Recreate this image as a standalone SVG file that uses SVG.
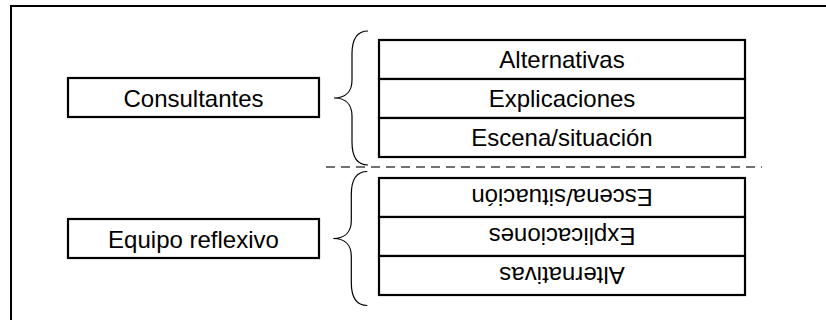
<svg xmlns="http://www.w3.org/2000/svg" width="826" height="320" viewBox="0 0 826 320">
<defs>
<style>
.box{fill:#fff;stroke:#000;stroke-width:2.2}
.frame{fill:none;stroke:#000;stroke-width:2}
.t{font-family:"Liberation Sans",Arial,sans-serif;font-size:24px;fill:#000;text-anchor:middle}
.brace{fill:none;stroke:#000;stroke-width:1.2}
.dash{fill:none;stroke:#444;stroke-width:1.3;stroke-dasharray:9 6}
</style>
<path id="bracePath" d="M368,31 C356,31 352,40 352,54 L352,80 C352,91 346,98 334,98 C346,98 352,105 352,116 L352,142 C352,156 356,165 368,165"/>
</defs>
<rect x="0" y="0" width="826" height="320" fill="#fff"/>
<rect class="frame" x="11" y="6" width="840" height="340"/>
<g id="consultantes">
<rect class="box" x="68" y="78" width="251" height="39"/>
<text class="t" x="193.5" y="106.5">Consultantes</text>
</g>
<g id="equipo-reflexivo">
<rect class="box" x="68" y="219" width="251" height="39"/>
<text class="t" x="193.5" y="247.5">Equipo reflexivo</text>
</g>
<g id="top-alternativas">
<rect class="box" x="379" y="40" width="366" height="39"/>
<text class="t" x="562" y="68.3">Alternativas</text>
</g>
<g id="top-explicaciones">
<rect class="box" x="379" y="79" width="366" height="39"/>
<text class="t" x="562" y="107.3">Explicaciones</text>
</g>
<g id="top-escena">
<rect class="box" x="379" y="118" width="366" height="39"/>
<text class="t" x="562" y="146.3">Escena/situación</text>
</g>
<g id="bottom-escena">
<rect class="box" x="379" y="178" width="366" height="39"/>
<text class="t" x="562" y="206.3" transform="rotate(180 562 197.5)">Escena/situación</text>
</g>
<g id="bottom-explicaciones">
<rect class="box" x="379" y="217" width="366" height="39"/>
<text class="t" x="562" y="245.3" transform="rotate(180 562 236.5)">Explicaciones</text>
</g>
<g id="bottom-alternativas">
<rect class="box" x="379" y="256" width="366" height="39"/>
<text class="t" x="562" y="284.3" transform="rotate(180 562 275.5)">Alternativas</text>
</g>
<g id="connectors">
<use href="#bracePath" class="brace"/>
<use href="#bracePath" class="brace" transform="translate(-0.7 140.5)"/>
<line class="dash" x1="326" y1="167" x2="762" y2="167"/>
</g>
</svg>
